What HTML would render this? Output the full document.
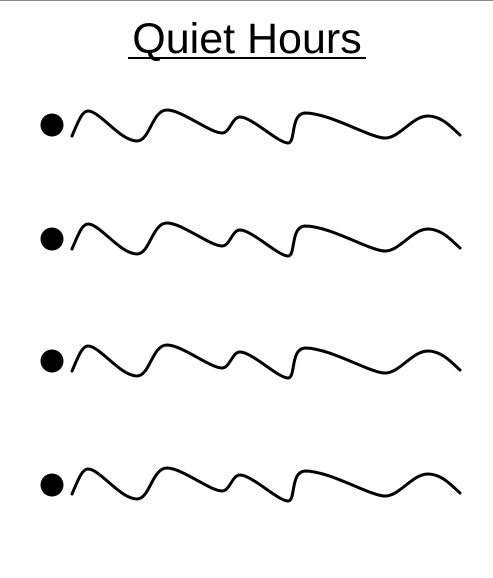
<!DOCTYPE html>
<html><head><meta charset="utf-8"><style>
html,body{margin:0;padding:0;background:#fff;width:493px;height:578px;overflow:hidden}
</style></head><body>
<svg width="493" height="578" viewBox="0 0 493 578" xmlns="http://www.w3.org/2000/svg">
<line x1="0" y1="0.5" x2="493" y2="0.5" stroke="#888" stroke-width="1"/>
<text x="247" y="53" text-anchor="middle" font-family="Liberation Sans, sans-serif" font-size="43" fill="#000">Quiet Hours</text>
<line x1="128" y1="58" x2="366" y2="58" stroke="#000" stroke-width="2"/>
<defs>
<path id="w" d="M72,136 C78,122 82,111 88,111 C100,111 120,141 137,141 C150,141 152,110 167,110 C182,110 210,133 222,133 C230,133 232,117 240,117 C252,117 278,143 288,143 C296,143 290,114 305,113 C330,113 370,138 385,138 C400,138 412,116 428,116 C442,116 452,128 460,135" fill="none" stroke="#000" stroke-width="3" stroke-linecap="round"/>
</defs>
<g><circle cx="52" cy="125" r="11.5"/><use href="#w"/></g>
<g transform="translate(0,113)"><circle cx="52" cy="126" r="11.5"/><use href="#w"/></g>
<g transform="translate(0,235)"><circle cx="52" cy="126" r="11.5"/><use href="#w"/></g>
<g transform="translate(0,358)"><circle cx="52" cy="127" r="11.5"/><use href="#w"/></g>
</svg>
</body></html>
